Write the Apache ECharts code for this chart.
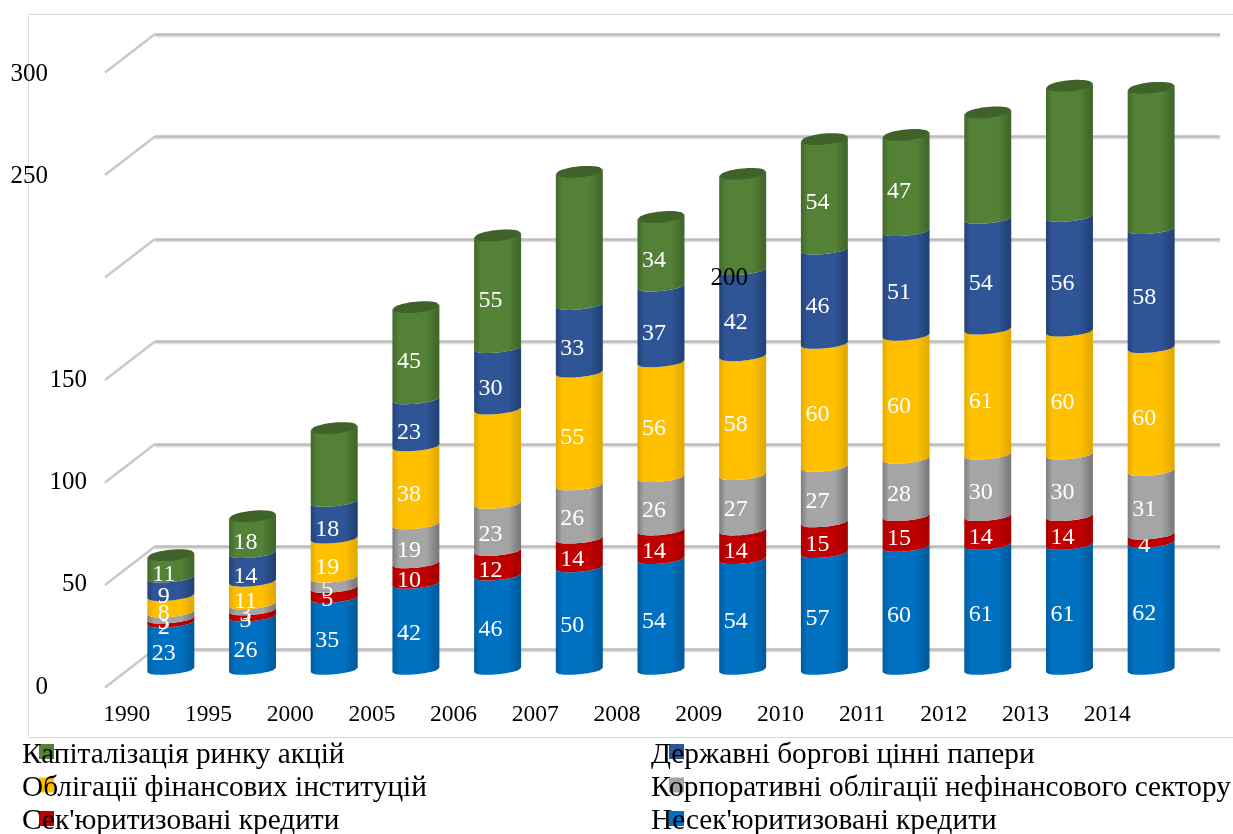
<!DOCTYPE html>
<html><head><meta charset="utf-8">
<style>html,body{margin:0;padding:0;background:#fff}#c{width:1233px;height:834px}</style>
<script src="https://cdn.jsdelivr.net/npm/echarts@6/dist/echarts.min.js"></script>
</head><body><div id="c"></div>
<script>
const categories = ['1990','1995','2000','2005','2006','2007','2008','2009','2010','2011','2012','2013','2014'];
const unsecuritized = [23,26,35,42,46,50,54,54,57,60,61,61,62];
const securitized   = [2,3,5,10,12,14,14,14,15,15,14,14,4];
const corporate     = [3,3,5,19,23,26,26,27,27,28,30,30,31];
const financial     = [8,11,19,38,46,55,56,58,60,60,61,60,60];
const government    = [9,14,18,23,30,33,37,42,46,51,54,56,58];
const equity        = [11,18,36,45,55,65,34,47,54,47,52,64,69];
const yTicks = [0,50,100,150,200,250,300];
const hiddenFinancial = ['2006'];
const hiddenEquity = ['2000','2007','2009','2012','2013','2014'];

const NAMES = {
  equity:'Капіталізація ринку акцій', gov:'Державні боргові цінні папери',
  fin:'Облігації фінансових інституцій', corp:'Корпоративні облігації нефінансового сектору',
  sec:"Сек'юритизовані кредити", unsec:"Несек'юритизовані кредити"
};
const FONT = '"Liberation Serif","Times New Roman",serif';
const stackDefs = [
  {name:NAMES.unsec, values:unsecuritized, base:'#0070C0', edge:'#005c9e', dy:7, hidden:[]},
  {name:NAMES.sec,   values:securitized,   base:'#C00000', edge:'#a80000', dy:7, hidden:[]},
  {name:NAMES.corp,  values:corporate,     base:'#A5A5A5', edge:'#7d7d7d', dy:7, hidden:[]},
  {name:NAMES.fin,   values:financial,     base:'#FFC000', edge:'#e3ab00', dy:9, hidden:hiddenFinancial},
  {name:NAMES.gov,   values:government,    base:'#2F5597', edge:'#234277', dy:9.5, hidden:[]},
  {name:NAMES.equity,values:equity,        base:'#538135', edge:'#42682a', dy:8.5, hidden:hiddenEquity, cap:'#3f6229'}
];
function grad(d){
  return {type:'linear',x:0,y:0,x2:1,y2:0,colorStops:[
    {offset:0,color:d.edge},{offset:0.14,color:d.base},{offset:0.72,color:d.base},
    {offset:0.95,color:d.edge},{offset:1,color:d.edge}]};
}
const TILT=2.2, BOW=4.3, CAP_BOW=5.5, N=16;
function curve(cx,hw,yc,bow,rev){
  const pts=[];
  for(let i=0;i<=N;i++){
    const t=-1+2*i/N;
    pts.push([cx+hw*t, yc+bow*Math.sqrt(Math.max(0,1-t*t))-TILT*t]);
  }
  return rev?pts.reverse():pts;
}
function segRender(def){
  return function(params,api){
    const i=api.value(0), lo=api.value(1), hi=api.value(2), val=api.value(3);
    const pLo=api.coord([i,lo]), pHi=api.coord([i,hi]);
    const hw=api.size([1,0])[0]*0.2875, cx=pLo[0];
    const children=[{
      type:'polygon',
      shape:{points:curve(cx,hw,pHi[1],BOW,false).concat(curve(cx,hw,pLo[1],BOW,true))},
      style:{fill:grad(def)}
    }];
    if(def.cap){
      children.push({type:'polygon',
        shape:{points:curve(cx,hw,pHi[1],CAP_BOW,false).concat(curve(cx,hw,pHi[1],-CAP_BOW,true))},
        style:{fill:def.cap}});
    }
    if(def.hidden.indexOf(categories[i])<0){
      children.push({type:'text',z2:50,
        style:{text:String(val),x:cx-7,y:(pLo[1]+pHi[1])/2+def.dy,align:'center',verticalAlign:'middle',
          fill:'#fff',font:'24px '+FONT}});
    }
    return {type:'group',children};
  };
}
const cum=categories.map(()=>0);
const barSeries=stackDefs.map((def,k)=>{
  const data=def.values.map((v,i)=>{const lo=cum[i];cum[i]+=v;return [i,lo,cum[i],v];});
  return {type:'custom',name:def.name,coordinateSystem:'cartesian2d',xAxisIndex:0,yAxisIndex:0,z:5+k,clip:false,
    itemStyle:{color:def.base},encode:{x:0,y:[1,2]},data,renderItem:segRender(def),silent:true};
});
const diagSeries={type:'custom',coordinateSystem:'cartesian2d',xAxisIndex:2,yAxisIndex:2,z:2,clip:false,silent:true,
  data:yTicks.map(v=>[0,v]),encode:{x:0,y:1},
  renderItem(params,api){
    const y=api.coord([0,api.value(1)])[1], x=params.coordSys.x;
    return {type:'line',shape:{x1:x,y1:y,x2:x-50,y2:y+38.5},style:{stroke:'#c9c9c9',lineWidth:2.5,fill:null}};
  }};
const labelRight={300:700,250:700,200:0,150:661,100:661,50:661,0:700};
const rich={};
yTicks.forEach(v=>{rich['t'+v]={fontFamily:FONT,fontSize:25,color:'#000',padding:[0,labelRight[v],0,0]};});

function legendItems(list,hide){
  return list.map(n=>{
    const d=stackDefs.find(s=>s.name===n);
    return {name:n,itemStyle:{color:d.base,opacity:hide?0:1,borderWidth:0}};
  });
}
const leftCol=[NAMES.equity,NAMES.fin,NAMES.sec], rightCol=[NAMES.gov,NAMES.corp,NAMES.unsec];
function textLegend(list,left,z){
  return {orient:'vertical',left,top:741,height:130,itemWidth:1,itemHeight:14,itemGap:4,selectedMode:false,z,icon:'rect',
    padding:0,textStyle:{fontFamily:FONT,fontSize:29.3,color:'#000',lineHeight:26,padding:[0,0,0,0]},
    data:legendItems(list,true)};
}
function markLegend(list,left){
  return {orient:'vertical',left,top:744,height:130,itemWidth:15,itemHeight:15,itemGap:18.5,selectedMode:false,z:3,icon:'rect',
    padding:0,formatter:()=>' ',textStyle:{fontSize:1,lineHeight:1,color:'#000'},
    data:legendItems(list,false)};
}
const chart=echarts.init(document.getElementById('c'),null,{renderer:'canvas',width:1233,height:834});
chart.setOption({
  animation:false,backgroundColor:'#fff',
  graphic:[{type:'rect',z:-1,silent:true,shape:{x:28.5,y:14.5,width:1230,height:723},style:{fill:null,stroke:'#d9d9d9',lineWidth:1}}],
  legend:[markLegend(leftCol,39),markLegend(rightCol,669),textLegend(leftCol,16,20),textLegend(rightCol,645,20)],
  grid:[
    {left:130,width:1062,top:55,height:615},
    {left:752,width:10,top:74,height:613},
    {left:155,width:1065,top:34,height:615}
  ],
  xAxis:[
    {type:'category',gridIndex:0,data:categories,axisLine:{show:false},axisTick:{show:false},
     axisLabel:{interval:0,margin:33,align:'center',padding:[0,88,0,0],fontFamily:FONT,fontSize:23.5,color:'#000'}},
    {type:'category',gridIndex:1,data:['a'],show:false},
    {type:'category',gridIndex:2,data:['a'],show:false}
  ],
  yAxis:[
    {type:'value',gridIndex:0,min:0,max:300,interval:50,show:false},
    {type:'value',gridIndex:1,min:0,max:300,interval:50,z:30,axisLine:{show:false},axisTick:{show:false},splitLine:{show:false},
     axisLabel:{margin:4,formatter:v=>`{t${v}|${v}}`,rich}},
    {type:'value',gridIndex:2,min:0,max:300,interval:50,axisLine:{show:false},axisTick:{show:false},
     axisLabel:{show:false},splitLine:{show:true,lineStyle:{color:'#bdbdbd',width:2.5,shadowColor:'#dddddd',shadowOffsetY:1.5,shadowBlur:1}}}
  ],
  series:[diagSeries].concat(barSeries)
});
</script></body></html>
